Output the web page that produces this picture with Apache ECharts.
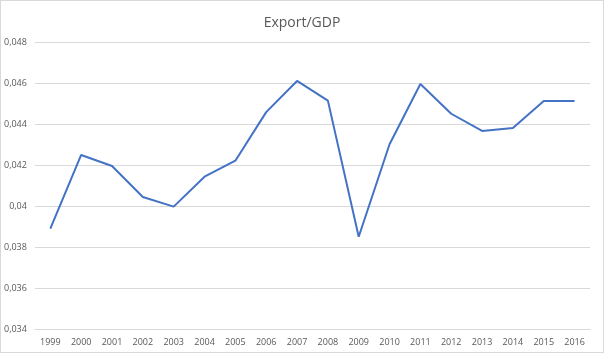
<!DOCTYPE html>
<html>
<head>
<meta charset="utf-8">
<script src="https://cdn.jsdelivr.net/npm/echarts@6/dist/echarts.min.js"></script>
<style>
  html, body { margin: 0; padding: 0; background: #fff; }
  #chart { width: 602px; height: 351px; border: 1px solid #d9d9d9; }
</style>
</head>
<body>
<div id="chart"></div>
<script>
const years = ['1999', '2000', '2001', '2002', '2003', '2004', '2005', '2006', '2007',
  '2008', '2009', '2010', '2011', '2012', '2013', '2014', '2015', '2016']
const exportGdp = [0.0389, 0.04249, 0.04195, 0.04044, 0.03997, 0.04143, 0.04221, 0.04458, 0.0461,
  0.04514, 0.0385, 0.04301, 0.04595, 0.0445, 0.04366, 0.04380, 0.04512, 0.04512]

const chart = echarts.init(document.getElementById('chart'))
const grey = '#595959'

chart.setOption({
  animation: false,
  title: {
    text: 'Export/GDP',
    left: 'center',
    top: 10,
    textStyle: { color: grey, fontSize: 14, fontWeight: 'normal', fontFamily: 'Open Sans' }
  },
  grid: { left: 32, right: 13, top: 41, bottom: 23 },
  xAxis: {
    type: 'category',
    data: years,
    boundaryGap: true,
    axisLine: { lineStyle: { color: '#d9d9d9' } },
    axisTick: { show: false },
    axisLabel: { color: grey, fontSize: 9, margin: 9, fontFamily: 'Open Sans' }
  },
  yAxis: {
    type: 'value',
    min: 0.034,
    max: 0.048,
    interval: 0.002,
    axisLine: { show: false },
    axisTick: { show: false },
    splitLine: { lineStyle: { color: '#d9d9d9' } },
    axisLabel: {
      color: grey, fontSize: 9, margin: 8, fontFamily: 'Open Sans',
      formatter: v => String(+v.toFixed(3)).replace('.', ',')
    }
  },
  series: [{
    name: 'Export/GDP',
    type: 'line',
    data: exportGdp,
    symbol: 'none',
    lineStyle: { color: '#4472C4', width: 2 }
  }]
})
</script>
</body>
</html>
